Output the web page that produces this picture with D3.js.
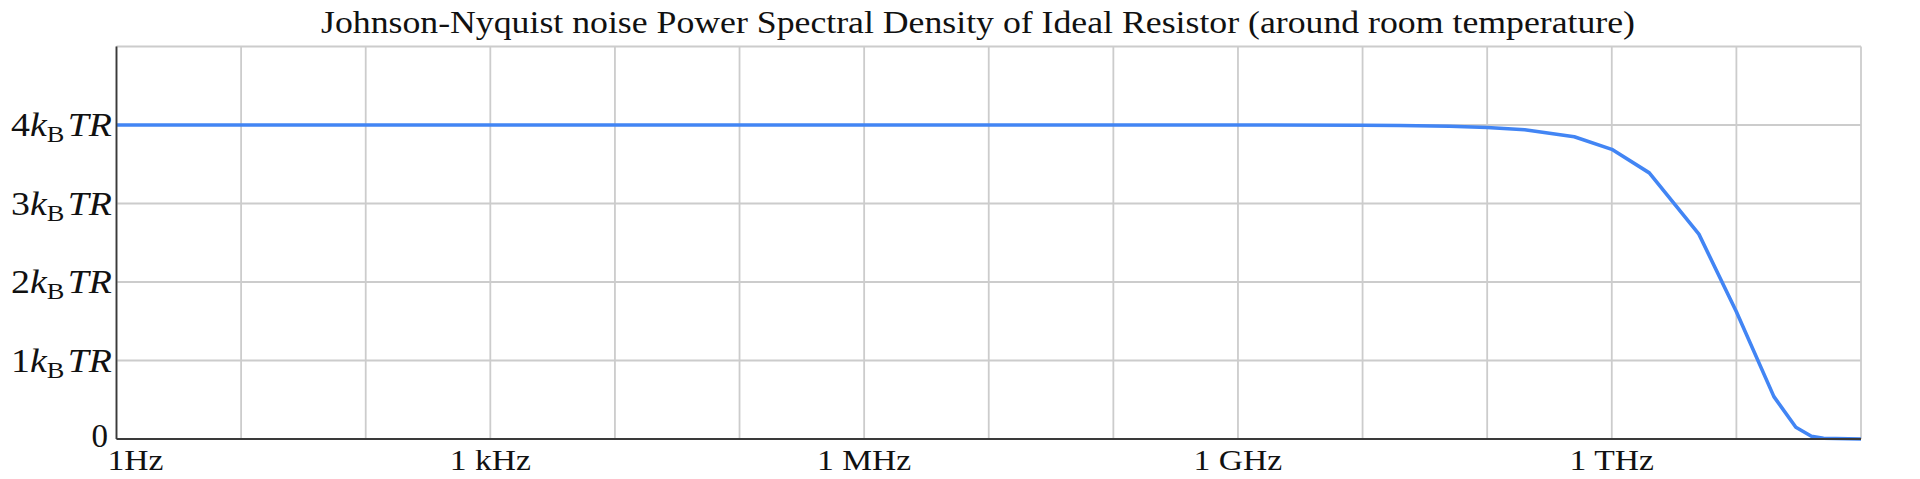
<!DOCTYPE html>
<html>
<head>
<meta charset="utf-8">
<script src="https://cdn.jsdelivr.net/npm/d3@7"></script>
<style>
  html, body { margin: 0; padding: 0; background: #fff; }
  svg { display: block; }
  text { font-family: "Liberation Serif", "DejaVu Serif", serif; fill: #111; }
</style>
</head>
<body>
<svg id="chart" width="1920" height="479"></svg>
<script>
// ---- data ----
const frequencies = [1, 10, 100, 1e3, 1e4, 1e5, 1e6, 1e7, 1e8, 1e9, 1e10, 2e10, 5e10,
                     1e11, 2e11, 5e11, 1e12, 2e12, 5e12, 1e13, 2e13, 3e13, 4e13, 5e13, 1e14];
const psdValues   = [4.0, 4.0, 4.0, 4.0, 4.0, 4.0, 4.0, 4.0, 4.0, 4.0, 3.997, 3.994, 3.984,
                     3.968, 3.94, 3.85, 3.69, 3.39, 2.61, 1.62, 0.54, 0.15, 0.035, 0.01, 0.0];
const xGridValues = [1, 10, 100, 1e3, 1e4, 1e5, 1e6, 1e7, 1e8, 1e9, 1e10, 1e11, 1e12, 1e13, 1e14];
const xTickValues = [1, 1e3, 1e6, 1e9, 1e12];
const xTickLabels = ["1Hz", "1 kHz", "1 MHz", "1 GHz", "1 THz"];
const yTickValues = [0, 1, 2, 3, 4, 5];
const yLabelValues = [0, 1, 2, 3, 4];
const yCoefLabels = ["0", "1", "2", "3", "4"];
const titleText = "Johnson-Nyquist noise Power Spectral Density of Ideal Resistor (around room temperature)";

(function () {
// ---- layout ----
const mLeft = 116.5, mRight = 1861, mTop = 46.5, mBottom = 439;
const svg = d3.select("#chart");

const x = d3.scaleLog().domain([1, 1e14]).range([mLeft, mRight]);
const y = d3.scaleLinear().domain([0, 5]).range([mBottom, mTop]);

// grid
const grid = svg.append("g");
grid.selectAll("line.v").data(xGridValues).join("line").attr("class", "v")
  .attr("x1", d => x(d)).attr("x2", d => x(d))
  .attr("y1", mTop).attr("y2", mBottom)
  .attr("stroke", "#cccccc").attr("stroke-width", 1.8);
grid.selectAll("line.h").data(yTickValues).join("line").attr("class", "h")
  .attr("x1", mLeft).attr("x2", mRight)
  .attr("y1", d => y(d)).attr("y2", d => y(d))
  .attr("stroke", "#cccccc").attr("stroke-width", 1.8);

// line
const line = d3.line().x((d, i) => x(frequencies[i])).y(d => y(d));
svg.append("path").datum(psdValues)
  .attr("d", line)
  .attr("fill", "none")
  .attr("stroke", "#4285f4")
  .attr("stroke-width", 3.6)
  .attr("stroke-linejoin", "round");

// axes lines
svg.append("line").attr("x1", mLeft).attr("x2", mLeft).attr("y1", mTop).attr("y2", mBottom)
  .attr("stroke", "#3a3a3a").attr("stroke-width", 1.8);
svg.append("line").attr("x1", mLeft).attr("x2", mRight).attr("y1", mBottom).attr("y2", mBottom)
  .attr("stroke", "#3a3a3a").attr("stroke-width", 2);

// y labels
const yl = svg.append("g");
yLabelValues.forEach((v, i) => {
  const t = yl.append("text")
    .attr("x", v === 0 ? 108 : 112)
    .attr("y", y(v) + (v === 0 ? 8 : 11))
    .attr("text-anchor", "end")
    .attr("font-size", 33);
  if (v === 0) {
    t.text(yCoefLabels[i]);
  } else {
    t.append("tspan").text(yCoefLabels[i]);
    t.append("tspan").attr("font-style", "italic").text("k");
    t.append("tspan").attr("font-size", 23).attr("dy", 6).text("B");
    t.append("tspan").attr("font-style", "italic").attr("dy", -6).attr("dx", 3).text("TR");
    t.attr("textLength", 101).attr("lengthAdjust", "spacingAndGlyphs");
  }
});

// x labels
const xl = svg.append("g").selectAll("text").data(xTickValues).join("text")
  .attr("x", (d, i) => i === 0 ? x(d) - 9 : x(d))
  .attr("y", 470)
  .attr("text-anchor", (d, i) => i === 0 ? "start" : "middle")
  .attr("font-size", 30)
  .text((d, i) => xTickLabels[i]);
xl.each(function () {
  const len = this.getComputedTextLength();
  d3.select(this).attr("textLength", len * 1.12).attr("lengthAdjust", "spacingAndGlyphs");
});

// title
svg.append("text")
  .attr("x", 978).attr("y", 33)
  .attr("text-anchor", "middle")
  .attr("font-size", 30.5)
  .attr("textLength", 1314)
  .attr("lengthAdjust", "spacingAndGlyphs")
  .text(titleText);
})();
</script>
</body>
</html>
